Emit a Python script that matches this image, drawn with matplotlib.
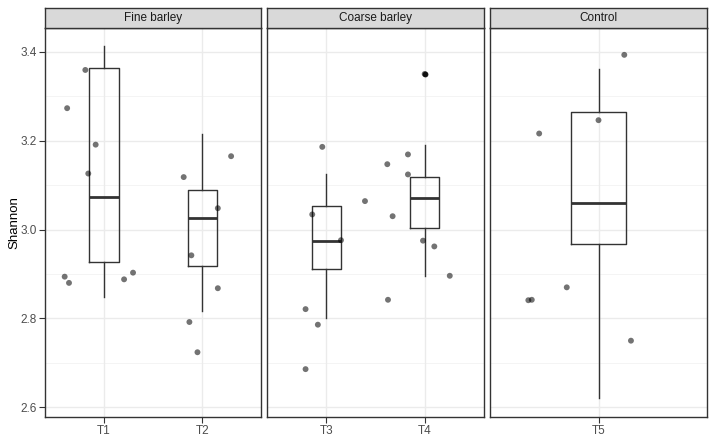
import numpy as np
import matplotlib
matplotlib.use("Agg")
import matplotlib.pyplot as plt

plt.rcParams['font.family'] = ['Liberation Sans', 'DejaVu Sans']

# facets and their treatments
facets = ["Fine barley", "Coarse barley", "Control"]
facet_groups = [["T1", "T2"], ["T3", "T4"], ["T5"]]

# box statistics: whislo, q1, med, q3, whishi
box_stats = {
    "T1": [2.848, 2.926, 3.073, 3.363, 3.414],
    "T2": [2.817, 2.918, 3.027, 3.088, 3.216],
    "T3": [2.801, 2.911, 2.974, 3.052, 3.124],
    "T4": [2.895, 3.003, 3.071, 3.118, 3.190],
    "T5": [2.620, 2.968, 3.060, 3.264, 3.361],
}
outliers = {"T1": [], "T2": [], "T3": [], "T4": [3.350], "T5": []}

# jittered sample points (horizontal offset from category, Shannon value)
jit_x = {
    "T1": [-0.19, -0.375, -0.085, -0.16, -0.40, -0.356, 0.204, 0.295],
    "T2": [-0.19, 0.292, 0.157, -0.112, 0.157, -0.132, -0.05],
    "T3": [-0.041, -0.143, 0.149, -0.211, -0.086, -0.211, 0.393],
    "T4": [0.0, -0.17, -0.38, -0.17, -0.326, -0.017, 0.098, 0.255, -0.373],
    "T5": [0.143, 0.0, -0.329, -0.176, -0.37, -0.389, 0.18],
}
shannon = {
    "T1": [3.359, 3.273, 3.191, 3.126, 2.894, 2.880, 2.888, 2.903],
    "T2": [3.118, 3.165, 3.048, 2.942, 2.868, 2.792, 2.724],
    "T3": [3.186, 3.034, 2.976, 2.821, 2.786, 2.686, 3.064],
    "T4": [3.350, 3.169, 3.147, 3.124, 3.030, 2.975, 2.962, 2.896, 2.842],
    "T5": [3.393, 3.246, 3.216, 2.870, 2.842, 2.841, 2.750],
}

W, H = 714, 444
fig = plt.figure(figsize=(W / 100, H / 100), dpi=100)
fig.patch.set_facecolor("white")

panel_left = [45, 267.3, 490.3]
panel_w = 216.4
panel_top, panel_bot = 28.3, 416.7
strip_top = 8.0
edge = "#333333"

for i, (name, groups) in enumerate(zip(facets, facet_groups)):
    ax = fig.add_axes([panel_left[i] / W, 1 - panel_bot / H,
                       panel_w / W, (panel_bot - panel_top) / H])
    pos = np.arange(1, len(groups) + 1)

    # grid
    for v in np.arange(2.6, 3.45, 0.2):
        ax.axhline(v, color="#EBEBEB", lw=1.0, zorder=0)
    for v in np.arange(2.7, 3.45, 0.2):
        ax.axhline(v, color="#F2F2F2", lw=0.6, zorder=0)
    for p in pos:
        ax.axvline(p, color="#EBEBEB", lw=1.0, zorder=0)

    stats = []
    for g in groups:
        lo, q1, med, q3, hi = box_stats[g]
        stats.append(dict(whislo=lo, q1=q1, med=med, q3=q3, whishi=hi,
                          fliers=outliers[g]))
    ax.bxp(stats, positions=pos, widths=0.3, showcaps=False,
           boxprops=dict(color=edge, lw=1.0),
           whiskerprops=dict(color=edge, lw=1.0),
           medianprops=dict(color=edge, lw=2.0),
           flierprops=dict(marker="o", markerfacecolor="#222222",
                           markeredgecolor="none", markersize=4.2),
           zorder=2)

    for p, g in zip(pos, groups):
        ax.scatter(p + np.array(jit_x[g]), shannon[g], s=18, color="black",
                   alpha=0.55, edgecolors="none", zorder=3)

    ax.set_xlim(0.4, len(groups) + 0.6)
    ax.set_ylim(2.579, 3.4527)
    ax.set_xticks(pos)
    ax.set_xticklabels(groups)
    ax.set_yticks([2.6, 2.8, 3.0, 3.2, 3.4])
    if i == 0:
        ax.set_yticklabels(["2.6", "2.8", "3.0", "3.2", "3.4"])
        ax.set_ylabel("Shannon", fontsize=9.5, color="black")
        ax.yaxis.set_label_coords(-0.115, 0.5)
    else:
        ax.set_yticklabels([])
        ax.tick_params(axis="y", length=0)
    ax.tick_params(axis="both", labelsize=8.5, labelcolor="#4D4D4D",
                   color=edge, width=0.8)
    ax.tick_params(axis="x", length=4, pad=2)
    if i == 0:
        ax.tick_params(axis="y", length=4, pad=2)
    for s in ax.spines.values():
        s.set_color(edge)
        s.set_linewidth(1.0)

    # strip
    sax = fig.add_axes([panel_left[i] / W, 1 - panel_top / H,
                        panel_w / W, (panel_top - strip_top) / H])
    sax.set_facecolor("#D9D9D9")
    sax.set_xticks([])
    sax.set_yticks([])
    for s in sax.spines.values():
        s.set_color(edge)
        s.set_linewidth(1.0)
    sax.text(0.5, 0.5, name, ha="center", va="center", fontsize=8.5,
             color="#1A1A1A", transform=sax.transAxes)

fig.savefig("out.png", dpi=100, facecolor="white")
